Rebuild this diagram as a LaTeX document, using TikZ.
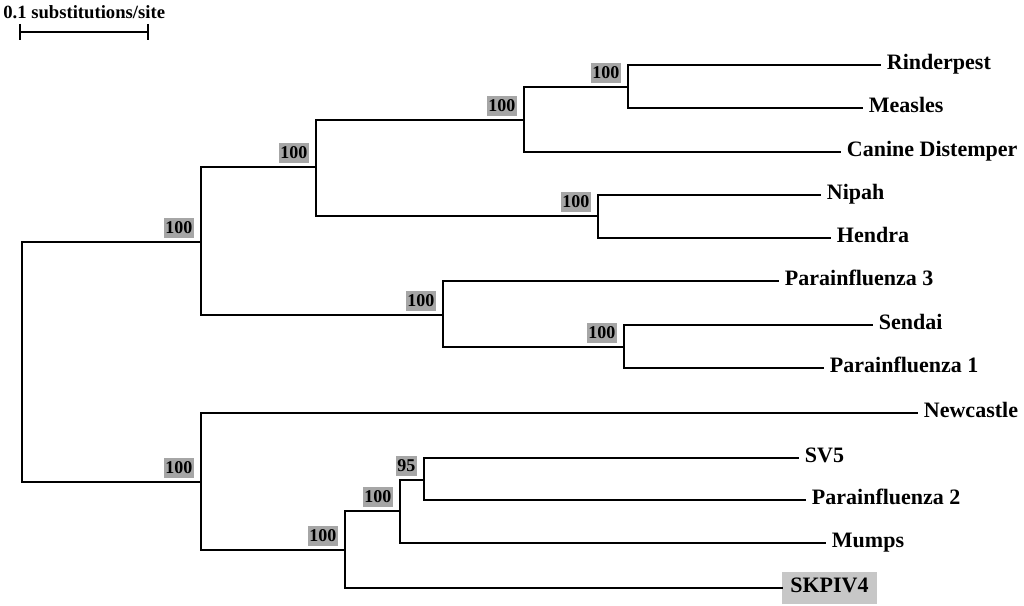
\documentclass[tikz,border=0pt]{standalone}
\usepackage{fontspec}
\setmainfont{Liberation Serif}
\usetikzlibrary{positioning}

\begin{document}
\begin{tikzpicture}[
    x=0.75pt, y=-0.75pt,
    branch/.style={line width=1.8pt, line cap=rect},
    leaf/.style={anchor=west, inner xsep=5pt, inner ysep=0pt,
                 font=\fontsize{16.5}{18}\selectfont\bfseries,
                 text height=0.75em, text depth=0.1em},
    boot/.style={fill=black!35, inner xsep=1.2pt, inner ysep=0pt,
                 minimum height=15pt, font=\fontsize{13.5}{14}\selectfont\bfseries},
    query/.style={leaf, fill=black!22, inner xsep=6pt, minimum height=24pt},
    bar/.style={line width=2.2pt},
]
\useasboundingbox (0,0) rectangle (1024,606);

% Scale bar
\node[anchor=west, inner sep=0pt, font=\fontsize{14}{15}\selectfont\bfseries] (scaletxt) at (3,12) {0.1 substitutions/site};
\coordinate (sb1) at (20,32);
\coordinate (sb2) at (148,32);
\draw[bar] (sb1) -- (sb2);
\draw[bar] ([yshift=6pt]sb1) -- ([yshift=-6pt]sb1);
\draw[bar] ([yshift=6pt]sb2) -- ([yshift=-6pt]sb2);

% Internal nodes
\coordinate (root) at (22,362);
\coordinate (nA) at (201,242);
\coordinate (nB) at (201,482);
\coordinate (nC) at (316,167);
\coordinate (nD) at (443,315);
\coordinate (nE) at (524,120);
\coordinate (nF) at (598,216);
\coordinate (nG) at (628,87);
\coordinate (nH) at (624,347);
\coordinate (nK) at (345,550);
\coordinate (nM) at (400,511);
\coordinate (nN) at (424,480);

% Leaves
\node[leaf] (rind) at (880,65) {Rinderpest};
\node[leaf] (meas) at (862,108) {Measles};
\node[leaf] (cdv) at (840,152) {Canine Distemper};
\node[leaf] (nipah) at (820,195) {Nipah};
\node[leaf] (hendra) at (830,238) {Hendra};
\node[leaf] (pi3) at (778,281) {Parainfluenza 3};
\node[leaf] (sendai) at (872,325) {Sendai};
\node[leaf] (pi1) at (823,368) {Parainfluenza 1};
\node[leaf] (ndv) at (917,413) {Newcastle};
\node[leaf] (sv5) at (798,458) {SV5};
\node[leaf] (pi2) at (805,500) {Parainfluenza 2};
\node[leaf] (mumps) at (825,543) {Mumps};
\node[query] (skpiv) at (782,588) {SKPIV4};

% Branches
\draw[branch] (root) |- (nA);
\draw[branch] (root) |- (nB);
\draw[branch] (nA) |- (nC);
\draw[branch] (nA) |- (nD);
\draw[branch] (nC) |- (nE);
\draw[branch] (nC) |- (nF);
\draw[branch] (nE) |- (nG);
\draw[branch] (nE) |- (cdv.west);
\draw[branch] (nG) |- (rind.west);
\draw[branch] (nG) |- (meas.west);
\draw[branch] (nF) |- (nipah.west);
\draw[branch] (nF) |- (hendra.west);
\draw[branch] (nD) |- (pi3.west);
\draw[branch] (nD) |- (nH);
\draw[branch] (nH) |- (sendai.west);
\draw[branch] (nH) |- (pi1.west);
\draw[branch] (nB) |- (ndv.west);
\draw[branch] (nB) |- (nK);
\draw[branch] (nK) |- (nM);
\draw[branch] (nK) |- (skpiv.west);
\draw[branch] (nM) |- (nN);
\draw[branch] (nM) |- (mumps.west);
\draw[branch] (nN) |- (sv5.west);
\draw[branch] (nN) |- (pi2.west);

% Bootstrap values
\node[boot, above left=3pt and 5pt of nA] (bA) {100};
\node[boot, above left=3pt and 5pt of nB] (bB) {100};
\node[boot, above left=3pt and 5pt of nC] (bC) {100};
\node[boot, above left=3pt and 5pt of nD] (bD) {100};
\node[boot, above left=3pt and 5pt of nE] (bE) {100};
\node[boot, above left=3pt and 5pt of nF] (bF) {100};
\node[boot, above left=3pt and 5pt of nG] (bG) {100};
\node[boot, above left=3pt and 5pt of nH] (bH) {100};
\node[boot, above left=3pt and 5pt of nK] (bK) {100};
\node[boot, above left=3pt and 5pt of nM] (bM) {100};
\node[boot, above left=3pt and 5pt of nN] (bN) {95};

\end{tikzpicture}
\end{document}
